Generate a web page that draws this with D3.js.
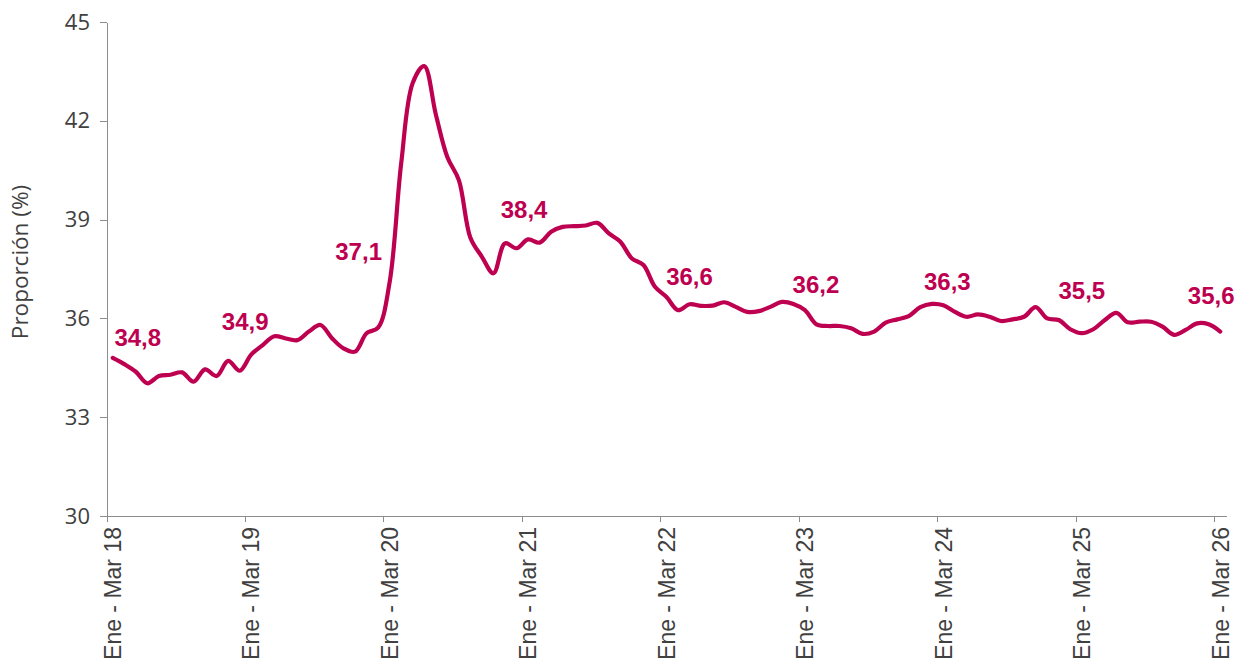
<!DOCTYPE html>
<html>
<head>
<meta charset="utf-8">
<script src="https://cdn.jsdelivr.net/npm/d3@7"></script>
<style>
    body { margin: 0; background: #ffffff; }
    .axis path, .axis line { stroke: #8c8c8c; shape-rendering: crispEdges; }
    .y-axis text { font-family: "Open Sans", sans-serif; font-size: 22px; fill: #404040; }
    .x-axis text { font-family: "Liberation Sans", Arial, sans-serif; font-size: 23px; fill: #404040; }
    .axis-title { font-family: "Open Sans", sans-serif; font-size: 22.5px; fill: #404040; }
    .point-label { font-family: "Liberation Sans", Arial, sans-serif; font-size: 24px; font-weight: 700; fill: #be0050; }
</style>
</head>
<body>
<div id="chart"></div>
<script>

// Month names used to build the rolling-quarter category labels
const months = ["Ene", "Feb", "Mar", "Abr", "May", "Jun", "Jul", "Ago", "Sep", "Oct", "Nov", "Dic"];
const startYear = 18;
const nPeriods = 97;

// Proporción (%) per rolling quarter, Ene-Mar 18 ... Ene-Mar 26
const values = [
    34.8, 34.61, 34.38, 34.03, 34.25, 34.29, 34.36, 34.08, 34.45, 34.25, 34.71, 34.41,
    34.9, 35.19, 35.46, 35.39, 35.34, 35.6, 35.8, 35.4, 35.09, 34.99, 35.55, 35.72,
    37.1, 40.7, 43.15, 43.66, 42.2, 40.9, 40.2, 38.45, 37.87, 37.37, 38.28, 38.13,
    38.4, 38.3, 38.63, 38.78, 38.8, 38.82, 38.9, 38.58, 38.33, 37.82, 37.62, 36.96,
    36.65, 36.25, 36.43, 36.38, 36.39, 36.49, 36.35, 36.2, 36.22, 36.35, 36.5, 36.44,
    36.25, 35.82, 35.77, 35.77, 35.7, 35.53, 35.6, 35.87, 35.97, 36.07, 36.34, 36.44,
    36.4, 36.2, 36.05, 36.12, 36.05, 35.92, 35.97, 36.05, 36.34, 36.0, 35.95, 35.67,
    35.55, 35.67, 35.95, 36.17, 35.88, 35.9, 35.9, 35.75, 35.5, 35.65, 35.85, 35.82,
    35.6
];

// Annotated values (one per Ene - Mar period)
const labelIndex = [0, 12, 24, 36, 48, 60, 72, 84, 96];
const labelText = ["34,8", "34,9", "37,1", "38,4", "36,6", "36,2", "36,3", "35,5", "35,6"];

// Y axis ticks
const yTicks = [30, 33, 36, 39, 42, 45];

// label placement relative to its point (dx to text centre, dy to baseline)
const labelOffset = [[25, -12], [-6, -25], [-31, -22], [-4, -21], [23, -12], [11, -17], [4, -15], [0, -34], [-9, -28]];

let periods = [];
for (let i = 0; i < nPeriods; i++) {
    let yr = startYear + Math.floor((i + 2) / 12);
    periods.push(months[i % 12] + " - " + months[(i + 2) % 12] + " " + yr);
}

let data = values.map(function (d, i) { return { period: periods[i], value: d }; });

let margin = { top: 22, right: 23, bottom: 153, left: 107 };
let width = 1249 - margin.left - margin.right,
    height = 669 - margin.top - margin.bottom;

let svg = d3.select("#chart").append("svg")
    .attr("width", 1249)
    .attr("height", 669)
    .append("g")
    .attr("transform", "translate(" + margin.left + "," + margin.top + ")");

// Scales
let x = d3.scaleBand()
    .domain(periods)
    .range([0, width])
    .padding(0);

let y = d3.scaleLinear()
    .domain([30, 45])
    .range([height, 0]);

let bw = x.bandwidth();

// Axes
let yAxis = d3.axisLeft(y)
    .tickValues(yTicks)
    .tickSize(7)
    .tickSizeOuter(0)
    .tickPadding(10);

svg.append("g")
    .attr("class", "y-axis axis")
    .call(yAxis);

let xAxis = d3.axisBottom(x)
    .tickValues(periods.filter(function (d, i) { return i % 12 === 0; }))
    .tickSize(6)
    .tickSizeOuter(0);

let xg = svg.append("g")
    .attr("class", "x-axis axis")
    .attr("transform", "translate(0," + height + ")")
    .call(xAxis);

// ticks sit on the category boundary, labels on the category centre
xg.selectAll(".tick line")
    .attr("transform", "translate(" + (-bw / 2) + ",0)");

xg.selectAll(".tick text")
    .attr("transform", "rotate(-90)")
    .attr("x", -11)
    .attr("y", 0)
    .attr("dy", "0.36em")
    .style("text-anchor", "end");

// Axis title
svg.append("text")
    .attr("class", "axis-title")
    .attr("transform", "translate(" + (20 - margin.left) + "," + (262 - margin.top) + ") rotate(-90)")
    .attr("dy", "0.35em")
    .style("text-anchor", "middle")
    .text("Proporción (%)");

// Line
let line = d3.line()
    .x(function (d) { return x(d.period) + bw / 2; })
    .y(function (d) { return y(d.value); })
    .curve(d3.curveCatmullRom.alpha(0.5));

svg.append("path")
    .datum(data)
    .attr("fill", "none")
    .attr("stroke", "#be0050")
    .attr("stroke-width", 4.2)
    .attr("stroke-linejoin", "round")
    .attr("stroke-linecap", "round")
    .attr("d", line);

// Value labels
svg.selectAll(".point-label")
    .data(labelIndex)
    .enter().append("text")
    .attr("class", "point-label")
    .attr("x", function (d, i) { return x(periods[d]) + bw / 2 + labelOffset[i][0]; })
    .attr("y", function (d, i) { return y(values[d]) + labelOffset[i][1]; })
    .style("text-anchor", "middle")
    .text(function (d, i) { return labelText[i]; });

</script>
</body>
</html>
